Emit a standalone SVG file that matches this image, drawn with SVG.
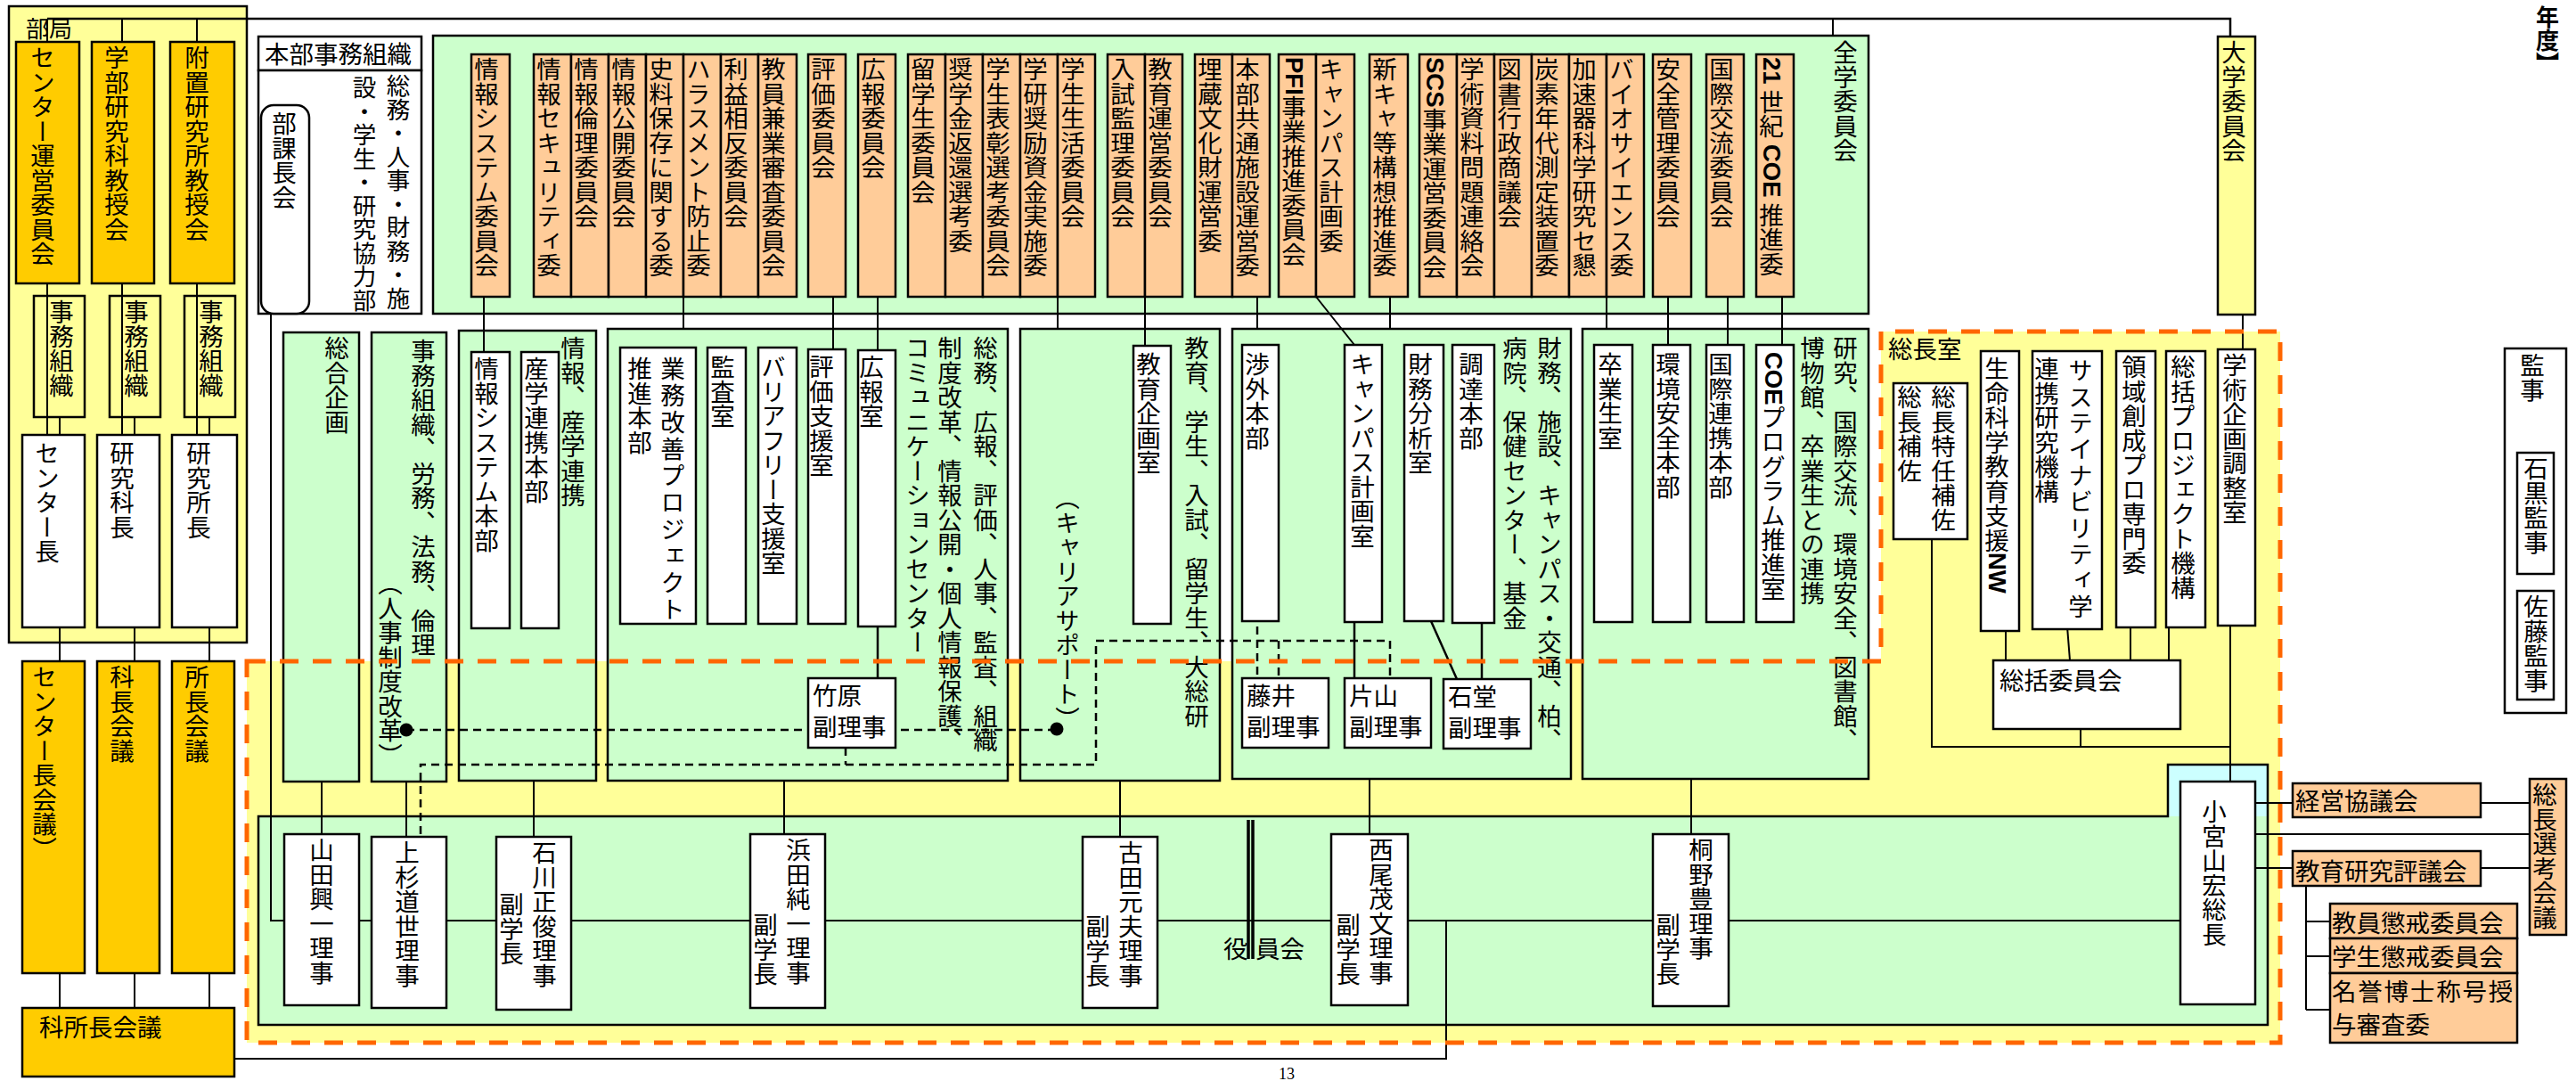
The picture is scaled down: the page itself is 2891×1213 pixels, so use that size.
<svg xmlns="http://www.w3.org/2000/svg" width="2891" height="1213" viewBox="0 0 2891 1213">
<style>
.t{font-family:"Noto Sans CJK JP","Noto Sans CJK SC",sans-serif;font-size:27.5px;fill:#000}
.v{writing-mode:vertical-rl}
.s{font-size:26.5px}
.bx{stroke:#000;stroke-width:2.5}
.ln{stroke:#000;stroke-width:2;fill:none}
.dl{stroke:#000;stroke-width:2.5;stroke-dasharray:9 6;fill:none}
.lt{font-family:"Liberation Sans",sans-serif;font-weight:bold}
.or{fill:#FFCC99}.gd{fill:#FFCC00}.yl{fill:#FFFF99}.gr{fill:#CCFFCC}.wh{fill:#FFFFFF}.cy{fill:#CCFFFF}
</style>
<rect width="2891" height="1213" fill="#fff"/>
<!-- dashed region fill -->
<path d="M277,742 H2111 V372 H2559 V1170 H277 Z" fill="#FFFF99"/>
<g id="containers">
  <g id="bukyoku">
    <rect class="yl bx" x="10" y="7" width="267" height="714"/>
    <text class="t" x="29" y="42" style="font-size:26px">部局</text>
    <rect class="yl bx" x="38" y="332" width="57" height="136"/>
    <text class="t v" x="69" y="336">事務組織</text>
    <rect class="yl bx" x="123" y="332" width="57" height="136"/>
    <text class="t v" x="153" y="336">事務組織</text>
    <rect class="yl bx" x="207" y="332" width="57" height="136"/>
    <text class="t v" x="237" y="336">事務組織</text>
  </g>
  <g id="honbu">
    <rect class="wh bx" x="290" y="41" width="183" height="38"/>
    <text class="t" x="297" y="71">本部事務組織</text>
    <rect class="wh bx" x="290" y="79" width="183" height="273"/>
    <text class="t v s" x="447" y="83">総務・人事・財務・施</text>
    <text class="t v s" x="409" y="85">設・学生・研究協力部</text>
  </g>
  <g id="zengaku">
    <rect class="gr bx" x="486" y="40" width="1611" height="312"/>
    <text class="t v" x="2071" y="45">全学委員会</text>
  </g>
  <g id="yakuinkai-box">
    <rect class="gr" x="290" y="916" width="2255" height="234"/>
    <rect class="cy" x="2433" y="858" width="112" height="58"/>
    <path d="M290,916 H2433 V858 H2545 V1150 H290 Z" fill="none" stroke="#000" stroke-width="2.5"/>
  </g>
  <g id="boxA">
    <rect class="gr bx" x="318" y="373" width="85" height="504"/>
    <text class="t v" x="378" y="377">総合企画</text>
  </g>
  <g id="boxB">
    <rect class="gr bx" x="417" y="373" width="84" height="504"/>
    <text class="t v" x="475" y="380">事務組織、労務、法務、倫理</text>
    <text class="t v" x="438" y="641">（人事制度改革）</text>
  </g>
  <g id="boxC">
    <rect class="gr bx" x="515" y="371" width="154" height="505"/>
    <text class="t v" x="643" y="377">情報、産学連携</text>
  </g>
  <g id="boxD">
    <rect class="gr bx" x="682" y="369" width="449" height="507"/>
    <text class="t v" x="1106" y="377">総務、広報、評価、人事、監査、組織</text>
    <text class="t v" x="1066" y="377">制度改革、情報公開・個人情報保護、</text>
    <text class="t v" x="1030" y="377">コミュニケーションセンター</text>
  </g>
  <g id="boxE">
    <rect class="gr bx" x="1145" y="369" width="224" height="507"/>
    <text class="t v" x="1343" y="377">教育、学生、入試、留学生、大総研</text>
    <text class="t v" x="1198" y="545">（キャリアサポート）</text>
  </g>
  <g id="boxF">
    <rect class="gr bx" x="1383" y="369" width="380" height="505"/>
    <text class="t v" x="1739" y="377">財務、施設、キャンパス・交通、柏、</text>
    <text class="t v" x="1700" y="377">病院、保健センター、基金</text>
  </g>
  <g id="boxG">
    <rect class="gr bx" x="1776" y="369" width="321" height="505"/>
    <text class="t v" x="2071" y="377">研究、国際交流、環境安全、図書館、</text>
    <text class="t v" x="2034" y="377">博物館、卒業生との連携</text>
  </g>
</g>
<g id="connectors">
  <path class="ln" d="M53,21 H2503 V41" style="stroke-width:2.5"/>
  <path class="ln" d="M53,21 V47 M137,21 V47 M221,21 V47 M2057,21 V40"/>
  <path class="ln" d="M53,318 V488 M67,468 V488 M137,318 V488 M151,468 V488 M221,318 V488 M235,468 V488"/>
  <path class="ln" d="M67,704 V742 M151,704 V742 M235,704 V742 M67,1092 V1131 M151,1092 V1131 M235,1092 V1131"/>
  <path class="ln" d="M263,1188 H1623 V1033"/>
  <path class="ln" d="M304,352 V1033 H2447"/>
  <path class="ln" d="M543,332 V395 M767,334 V369 M935,332 V392 M985,332 V393 M1187,334 V369 M1285,334 V388 M1411,333 V369 M1477,333 L1520,387 M1560,333 V369 M1803,334 V369 M1872,333 V387 M1939,333 V387 M2000,333 V387"/>
  <path class="ln" d="M361,877 V936 M456,877 V939 M599,876 V939 M880,876 V936 M1257,876 V939 M1537,874 V936 M1898,874 V936"/>
  <path class="ln" d="M985,663 V761 M1520,643 V761 M1663,644 V762 M1606,697 L1635,762" style="stroke-width:2.5"/>
  <path class="dl" d="M1411,643 V761 M456,819 H1186 M472,936 V858 H1230 V719 H1560 V761 M949,839 V858 M1435,719 V761"/>
  <circle cx="985" cy="663" r="7.5"/>
  <circle cx="1411" cy="643" r="7.5"/>
  <circle cx="1520" cy="643" r="7.5"/>
  <circle cx="1663" cy="644" r="7.5"/>
  <circle cx="456" cy="819" r="7.5"/>
  <circle cx="1186" cy="818" r="7.5"/>
  <path class="ln" d="M2517,353 V392 M2503,702 V877 M2168,605 V838 H2503 M2335,818 V838 M2251,708 V741 M2320,703 L2323,741 M2391,705 V741 M2434,705 V741"/>
  <path class="ln" d="M2531,901 H2573 M2784,901 H2839 M2531,936 H2839 M2531,974 H2573 M2784,974 H2839 M2588,994 V1133 M2588,1034 H2615 M2588,1073 H2615 M2588,1133 H2615"/>
  <path class="ln" d="M1401,920 V1076 M1406,920 V1076" style="stroke-width:3.5"/>
</g>
<g id="bukyoku-nodes">
  <g id="n-center-unei"><rect class="gd bx" x="18" y="47" width="71" height="271"/><text class="t v" x="48" y="51">センター運営委員会</text></g>
  <g id="n-gakubu"><rect class="gd bx" x="103" y="47" width="70" height="271"/><text class="t v" x="131" y="51">学部研究科教授会</text></g>
  <g id="n-fuchi"><rect class="gd bx" x="191" y="47" width="72" height="271"/><text class="t v" x="221" y="51">附置研究所教授会</text></g>
  <g id="n-centercho"><rect class="wh bx" x="25" y="488" width="70" height="216"/><text class="t v" x="53" y="495">センター長</text></g>
  <g id="n-kenkyukacho"><rect class="wh bx" x="109" y="488" width="70" height="216"/><text class="t v" x="137" y="495">研究科長</text></g>
  <g id="n-kenkyushocho"><rect class="wh bx" x="193" y="488" width="73" height="216"/><text class="t v" x="223" y="495">研究所長</text></g>
  <g id="n-centercho-kaigi"><rect class="gd bx" x="25" y="742" width="70" height="350"/><text class="t v" x="50" y="746">センター長会議）</text></g>
  <g id="n-kacho-kaigi"><rect class="gd bx" x="109" y="742" width="70" height="350"/><text class="t v" x="137" y="746">科長会議</text></g>
  <g id="n-shocho-kaigi"><rect class="gd bx" x="193" y="742" width="70" height="350"/><text class="t v" x="221" y="746">所長会議</text></g>
  <g id="n-kashocho"><rect class="gd bx" x="25" y="1131" width="238" height="77"/><text class="t" x="44" y="1163">科所長会議</text></g>
</g>
<g id="n-bukachokai"><rect class="wh bx" x="293" y="118" width="54" height="234" rx="14"/><text class="t v" x="319" y="125">部課長会</text></g>
<g id="committees">
  <g id="c01"><rect class="or bx" x="529" y="61" width="43" height="272"/><text class="t v" x="546" y="64">情報システム委員会</text></g>
  <g id="c02"><rect class="or bx" x="599" y="61" width="42" height="272"/><text class="t v" x="616" y="64">情報セキュリティ委</text></g>
  <g id="c03"><rect class="or bx" x="641" y="61" width="42" height="272"/><text class="t v" x="658" y="64">情報倫理委員会</text></g>
  <g id="c04"><rect class="or bx" x="683" y="61" width="42" height="272"/><text class="t v" x="700" y="64">情報公開委員会</text></g>
  <g id="c05"><rect class="or bx" x="725" y="61" width="42" height="272"/><text class="t v" x="742" y="64">史料保存に関する委</text></g>
  <g id="c06"><rect class="or bx" x="767" y="61" width="42" height="272"/><text class="t v" x="784" y="64">ハラスメント防止委</text></g>
  <g id="c07"><rect class="or bx" x="809" y="61" width="42" height="272"/><text class="t v" x="826" y="64">利益相反委員会</text></g>
  <g id="c08"><rect class="or bx" x="851" y="61" width="43" height="272"/><text class="t v" x="868" y="64">教員兼業審査委員会</text></g>
  <g id="c09"><rect class="or bx" x="907" y="61" width="42" height="272"/><text class="t v" x="924" y="64">評価委員会</text></g>
  <g id="c10"><rect class="or bx" x="963" y="61" width="42" height="272"/><text class="t v" x="980" y="64">広報委員会</text></g>
  <g id="c11"><rect class="or bx" x="1019" y="61" width="42" height="272"/><text class="t v" x="1036" y="64">留学生委員会</text></g>
  <g id="c12"><rect class="or bx" x="1061" y="61" width="42" height="272"/><text class="t v" x="1078" y="64">奨学金返還選考委</text></g>
  <g id="c13"><rect class="or bx" x="1103" y="61" width="42" height="272"/><text class="t v" x="1120" y="64">学生表彰選考委員会</text></g>
  <g id="c14"><rect class="or bx" x="1145" y="61" width="42" height="272"/><text class="t v" x="1162" y="64">学研奨励資金実施委</text></g>
  <g id="c15"><rect class="or bx" x="1187" y="61" width="42" height="272"/><text class="t v" x="1204" y="64">学生生活委員会</text></g>
  <g id="c16"><rect class="or bx" x="1243" y="61" width="42" height="272"/><text class="t v" x="1260" y="64">入試監理委員会</text></g>
  <g id="c17"><rect class="or bx" x="1285" y="61" width="42" height="272"/><text class="t v" x="1302" y="64">教育運営委員会</text></g>
  <g id="c18"><rect class="or bx" x="1341" y="61" width="42" height="272"/><text class="t v" x="1358" y="64">埋蔵文化財運営委</text></g>
  <g id="c19"><rect class="or bx" x="1383" y="61" width="42" height="272"/><text class="t v" x="1400" y="64">本部共通施設運営委</text></g>
  <g id="c20"><rect class="or bx" x="1435" y="61" width="42" height="272"/><text class="t v" x="1452" y="64"><tspan class="lt">PFI</tspan>事業推進委員会</text></g>
  <g id="c21"><rect class="or bx" x="1477" y="61" width="43" height="272"/><text class="t v" x="1494" y="64">キャンパス計画委</text></g>
  <g id="c22"><rect class="or bx" x="1537" y="61" width="43" height="272"/><text class="t v" x="1554" y="64">新キャ等構想推進委</text></g>
  <g id="c23"><rect class="or bx" x="1593" y="61" width="42" height="272"/><text class="t v" x="1610" y="64"><tspan class="lt">SCS</tspan>事業運営委員会</text></g>
  <g id="c24"><rect class="or bx" x="1635" y="61" width="42" height="272"/><text class="t v" x="1652" y="64">学術資料問題連絡会</text></g>
  <g id="c25"><rect class="or bx" x="1677" y="61" width="42" height="272"/><text class="t v" x="1694" y="64">図書行政商議会</text></g>
  <g id="c26"><rect class="or bx" x="1719" y="61" width="42" height="272"/><text class="t v" x="1736" y="64">炭素年代測定装置委</text></g>
  <g id="c27"><rect class="or bx" x="1761" y="61" width="42" height="272"/><text class="t v" x="1778" y="64">加速器科学研究セ懇</text></g>
  <g id="c28"><rect class="or bx" x="1803" y="61" width="42" height="272"/><text class="t v" x="1820" y="64">バイオサイエンス委</text></g>
  <g id="c29"><rect class="or bx" x="1855" y="61" width="43" height="272"/><text class="t v" x="1872" y="64">安全管理委員会</text></g>
  <g id="c30"><rect class="or bx" x="1915" y="61" width="42" height="272"/><text class="t v" x="1932" y="64">国際交流委員会</text></g>
  <g id="c31"><rect class="or bx" x="1971" y="61" width="42" height="272"/><text class="t v" x="1988" y="64"><tspan class="lt">21</tspan> 世紀 <tspan class="lt">COE</tspan> 推進委</text></g>
</g>
<g id="offices">
  <g id="o-joho-sys"><rect class="wh bx" x="529" y="395" width="43" height="310"/><text class="t v" x="546" y="400">情報システム本部</text></g>
  <g id="o-sangaku"><rect class="wh bx" x="585" y="395" width="42" height="310"/><text class="t v" x="602" y="400">産学連携本部</text></g>
  <g id="o-gyomu"><rect class="wh bx" x="696" y="390" width="85" height="310"/><text class="t v" x="755" y="400" style="letter-spacing:2.5px">業務改善プロジェクト</text><text class="t v" x="718" y="400">推進本部</text></g>
  <g id="o-kansa"><rect class="wh bx" x="794" y="390" width="43" height="310"/><text class="t v" x="811" y="398">監査室</text></g>
  <g id="o-barrier"><rect class="wh bx" x="851" y="390" width="43" height="310"/><text class="t v" x="868" y="398">バリアフリー支援室</text></g>
  <g id="o-hyoka"><rect class="wh bx" x="907" y="392" width="42" height="308"/><text class="t v" x="922" y="398">評価支援室</text></g>
  <g id="o-koho"><rect class="wh bx" x="963" y="393" width="42" height="310"/><text class="t v" x="978" y="398">広報室</text></g>
  <g id="o-kyoiku"><rect class="wh bx" x="1272" y="388" width="42" height="312"/><text class="t v" x="1289" y="395">教育企画室</text></g>
  <g id="o-shogai"><rect class="wh bx" x="1394" y="387" width="41" height="310"/><text class="t v" x="1411" y="395">渉外本部</text></g>
  <g id="o-campus"><rect class="wh bx" x="1509" y="387" width="42" height="311"/><text class="t v" x="1529" y="395">キャンパス計画室</text></g>
  <g id="o-zaimu"><rect class="wh bx" x="1576" y="387" width="44" height="310"/><text class="t v" x="1594" y="395">財務分析室</text></g>
  <g id="o-chotatsu"><rect class="wh bx" x="1630" y="387" width="47" height="312"/><text class="t v" x="1651" y="395">調達本部</text></g>
  <g id="o-sotsugyo"><rect class="wh bx" x="1789" y="387" width="43" height="311"/><text class="t v" x="1807" y="395">卒業生室</text></g>
  <g id="o-kankyo"><rect class="wh bx" x="1855" y="387" width="42" height="311"/><text class="t v" x="1872" y="395">環境安全本部</text></g>
  <g id="o-kokusai"><rect class="wh bx" x="1915" y="387" width="42" height="311"/><text class="t v" x="1931" y="395">国際連携本部</text></g>
  <g id="o-coe"><rect class="wh bx" x="1971" y="387" width="42" height="311"/><text class="t v" x="1990" y="395"><tspan class="lt">COE</tspan>プログラム推進室</text></g>
</g>
<g id="fukuriji">
  <g id="f-takehara"><rect class="wh bx" x="907" y="761" width="98" height="78"/><text class="t" x="912" y="791">竹原</text><text class="t" x="912" y="826">副理事</text></g>
  <g id="f-fujii"><rect class="wh bx" x="1394" y="761" width="97" height="78"/><text class="t" x="1399" y="791">藤井</text><text class="t" x="1399" y="826">副理事</text></g>
  <g id="f-katayama"><rect class="wh bx" x="1509" y="761" width="97" height="78"/><text class="t" x="1514" y="791">片山</text><text class="t" x="1514" y="826">副理事</text></g>
  <g id="f-ishido"><rect class="wh bx" x="1620" y="762" width="98" height="78"/><text class="t" x="1625" y="792">石堂</text><text class="t" x="1625" y="827">副理事</text></g>
</g>
<g id="directors">
  <g id="d-yamada"><rect class="wh bx" x="319" y="936" width="84" height="192"/><text class="t v" x="361" y="940">山田興一理事</text></g>
  <g id="d-uesugi"><rect class="wh bx" x="417" y="939" width="84" height="192"/><text class="t v" x="457" y="943">上杉道世理事</text></g>
  <g id="d-ishikawa"><rect class="wh bx" x="557" y="939" width="84" height="194"/><text class="t v" x="611" y="943">石川正俊理事</text><text class="t v" x="574" y="1001">副学長</text></g>
  <g id="d-hamada"><rect class="wh bx" x="842" y="936" width="84" height="195"/><text class="t v" x="896" y="940">浜田純一理事</text><text class="t v" x="859" y="1024">副学長</text></g>
  <g id="d-furuta"><rect class="wh bx" x="1215" y="939" width="84" height="192"/><text class="t v" x="1269" y="943">古田元夫理事</text><text class="t v" x="1232" y="1026">副学長</text></g>
  <g id="d-nishio"><rect class="wh bx" x="1494" y="936" width="86" height="192"/><text class="t v" x="1550" y="940">西尾茂文理事</text><text class="t v" x="1513" y="1024">副学長</text></g>
  <g id="d-kirino"><rect class="wh bx" x="1855" y="936" width="85" height="193"/><text class="t v" x="1909" y="940">桐野豊理事</text><text class="t v" x="1872" y="1024">副学長</text></g>
  <g id="d-komiyama"><rect class="wh bx" x="2447" y="877" width="84" height="250"/><text class="t v" x="2485" y="897">小宮山宏総長</text></g>
  <g id="yakuinkai-label"><text class="t" x="1373" y="1075">役<tspan x="1409">員会</tspan></text></g>
</g>
<g id="socho-shitsu">
  <text class="t" x="2119" y="402">総長室</text>
  <g id="s-hosa"><rect class="wh bx" x="2125" y="430" width="83" height="175"/><text class="t v" x="2181" y="432">総長特任補佐</text><text class="t v" x="2143" y="432">総長補佐</text></g>
  <g id="s-seimei"><rect class="wh bx" x="2223" y="394" width="43" height="314"/><text class="t v" x="2241" y="400">生命科学教育支援<tspan class="lt">NW</tspan></text></g>
  <g id="s-sustain"><rect class="wh bx" x="2281" y="394" width="78" height="312"/><text class="t v" x="2335" y="402" style="letter-spacing:1.9px">サステイナビリティ学</text><text class="t v" x="2297" y="400">連携研究機構</text></g>
  <g id="s-ryoiki"><rect class="wh bx" x="2375" y="394" width="44" height="310"/><text class="t v" x="2395" y="398">領域創成プロ専門委</text></g>
  <g id="s-sokatsu-kiko"><rect class="wh bx" x="2431" y="394" width="44" height="310"/><text class="t v" x="2450" y="398">総括プロジェクト機構</text></g>
  <g id="s-gakujutsu"><rect class="wh bx" x="2489" y="392" width="42" height="310"/><text class="t v" x="2508" y="396">学術企画調整室</text></g>
  <g id="s-sokatsu-iinkai"><rect class="wh bx" x="2237" y="741" width="210" height="77"/><text class="t" x="2244" y="774">総括委員会</text></g>
</g>
<g id="n-daigaku"><rect class="yl bx" x="2489" y="41" width="42" height="312"/><text class="t v" x="2507" y="45">大学委員会</text></g>
<g id="right-side">
  <g id="r-keiei"><rect class="or bx" x="2573" y="879" width="211" height="38"/><text class="t" x="2576" y="909">経営協議会</text></g>
  <g id="r-kyoiku"><rect class="or bx" x="2573" y="955" width="211" height="39"/><text class="t" x="2576" y="988">教育研究評議会</text></g>
  <g id="r-senko"><rect class="or bx" x="2839" y="874" width="41" height="175"/><text class="t v" x="2856" y="878">総長選考会議</text></g>
  <g id="r-kyoin"><rect class="or bx" x="2615" y="1014" width="210" height="39"/><text class="t" x="2617" y="1046">教員懲戒委員会</text></g>
  <g id="r-gakusei"><rect class="or bx" x="2615" y="1053" width="210" height="39"/><text class="t" x="2617" y="1084">学生懲戒委員会</text></g>
  <g id="r-meiyo"><rect class="or bx" x="2615" y="1092" width="210" height="78"/><text class="t" x="2617" y="1123" style="letter-spacing:1.8px">名誉博士称号授</text><text class="t" x="2617" y="1160">与審査委</text></g>
  <g id="r-kanji"><rect class="wh bx" x="2811" y="391" width="69" height="409"/><text class="t v" x="2842" y="396">監事</text>
    <rect class="wh bx" x="2825" y="508" width="41" height="136"/><text class="t v" x="2846" y="512">石黒監事</text>
    <rect class="wh bx" x="2825" y="663" width="41" height="122"/><text class="t v" x="2846" y="667">佐藤監事</text></g>
</g>
<text class="t v" x="2859" y="6" style="font-weight:bold;font-size:26px">年度】</text>
<text x="1435" y="1211" style="font-family:'Liberation Serif',serif;font-size:18px">13</text>
<path d="M277,742 H2111 V372 H2559 V1170 H277 Z" fill="none" stroke="#FF6600" stroke-width="5" stroke-dasharray="21 16"/>
</svg>
